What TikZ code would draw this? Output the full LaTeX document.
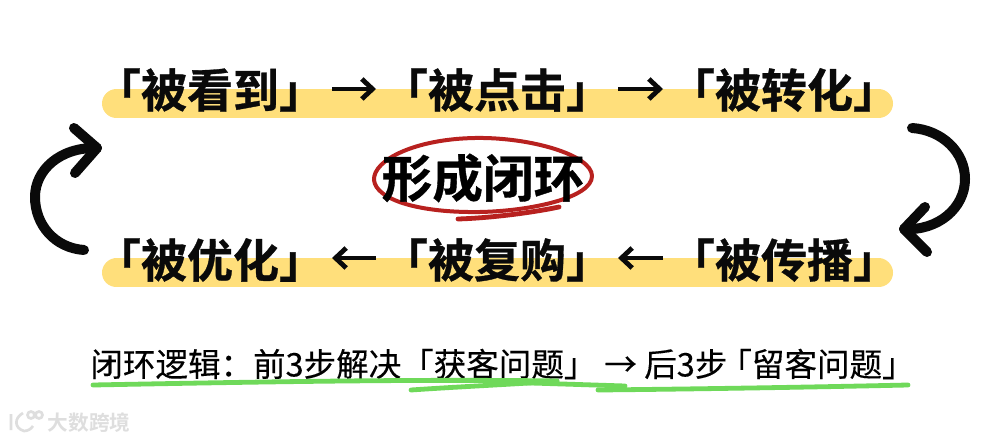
\documentclass[tikz,border=0pt]{standalone}
\usepackage{fontspec}
\newfontfamily\cjkb[FakeBold=0.7]{Noto Sans CJK SC Bold}
\newfontfamily\cjkw{Noto Sans CJK SC Bold}
\newfontfamily\cjkm[FakeBold=0.25]{Noto Sans CJK SC}
\usetikzlibrary{arrows.meta}
\definecolor{barY}{HTML}{FFDF7B}
\definecolor{circR}{HTML}{B8211F}
\definecolor{lineG}{HTML}{6FD95A}
\definecolor{inkK}{HTML}{0A0A0A}
\tikzset{
 x=0.75pt,y=-0.75pt,
 stage/.style={font=\cjkb\fontsize{34.5pt}{36pt}\selectfont,text=inkK,inner sep=0pt,anchor=center},
 bar/.style={line width=21.75pt,barY,line cap=round},
 flow/.style={line width=3.6pt,inkK,-{Straight Barb[length=8pt,width=15pt,line width=3.6pt]}},
 loop/.style={line width=7.5pt,inkK,line cap=round,line join=round},
 green/.style={lineG,line cap=round,line width=3.6pt},
}
\begin{document}
\begin{tikzpicture}
\useasboundingbox (0,0) rectangle (991,441);
\fill[white] (0,0) rectangle (991,441);
\draw[bar] (116.5,103.5) -- (878.5,103.5);
\draw[bar] (116.5,273) -- (878.5,273);
\node[stage] (a) at (210,90) {「被看到」};
\node[stage] (b) at (497,90) {「被点击」};
\node[stage] (c) at (784,90) {「被转化」};
\node[stage] (d) at (210,260) {「被优化」};
\node[stage] (e) at (497,260) {「被复购」};
\node[stage] (f) at (784,260) {「被传播」};
\coordinate (ab1) at (332,89); \coordinate (ab2) at (376,89);
\coordinate (bc1) at (618,89); \coordinate (bc2) at (663,89);
\coordinate (fe1) at (663,258); \coordinate (fe2) at (618,258);
\coordinate (ed1) at (376,258); \coordinate (ed2) at (332,258);
\draw[flow] (ab1) -- (ab2);
\draw[flow] (bc1) -- (bc2);
\draw[flow] (fe1) -- (fe2);
\draw[flow] (ed1) -- (ed2);
% loop arrows
\coordinate (r0) at (912,128); \coordinate (r1) at (904,229);
\draw[loop] (r0) .. controls (942,130) and (965,152) .. (965,179) .. controls (965,208) and (938,231) .. (r1);
\draw[loop] (925,207) -- (r1) -- (927,252);
\coordinate (l0) at (84,250); \coordinate (l1) at (97,148);
\draw[loop] (l0) .. controls (55,248) and (35,225) .. (35,197) .. controls (35,170) and (60,147) .. (l1);
\draw[loop] (74,128) -- (l1) -- (75,173);
% centre
\draw[circR,line width=3pt,line cap=round] (592,176) .. controls (592,155) and (530,137) .. (475,138) .. controls (415,139) and (373,160) .. (374,180) .. controls (376,200) and (420,213) .. (480,212) .. controls (530,211) and (592,198) .. (592,176);
\draw[circR,line width=3.6pt,line cap=round] (458,219) .. controls (490,218) and (530,213) .. (559,207);
\node[font=\cjkb\fontsize{38pt}{40pt}\selectfont,text=black,inner sep=0pt] (g) at (483,178) {形成闭环};
% bottom
\node[font=\cjkm\fontsize{24.4pt}{26pt}\selectfont,text=black,inner sep=0pt] (t) at (502.5,364) {闭环逻辑：前3步解决「获客问题」\kern6pt→ 后3步\kern-6pt「留客问题」};
\draw[green] (93,385) .. controls (250,382) and (420,379) .. (557,381);
\draw[green] (411,390) .. controls (470,386) and (520,384) .. (557,381);
\draw[green] (500,382) -- (625,386);
\draw[green] (598,390) .. controls (700,389) and (820,387) .. (908,385);
% watermark
\begin{scope}[draw=black!13,line width=2pt,fill=none]
\draw (11,414) -- (11,430) (23,413) .. controls (14,418) and (14,428) .. (24,431) .. controls (28,431) and (31,429) .. (33,426);
\draw (31,415) circle (3.5);
\draw (39,415) circle (3.5);
\end{scope}
\node[font=\cjkw\fontsize{15.5pt}{16pt}\selectfont,text=black!13,inner sep=0pt] (w) at (89,423) {大数跨境};
\end{tikzpicture}
\end{document}
